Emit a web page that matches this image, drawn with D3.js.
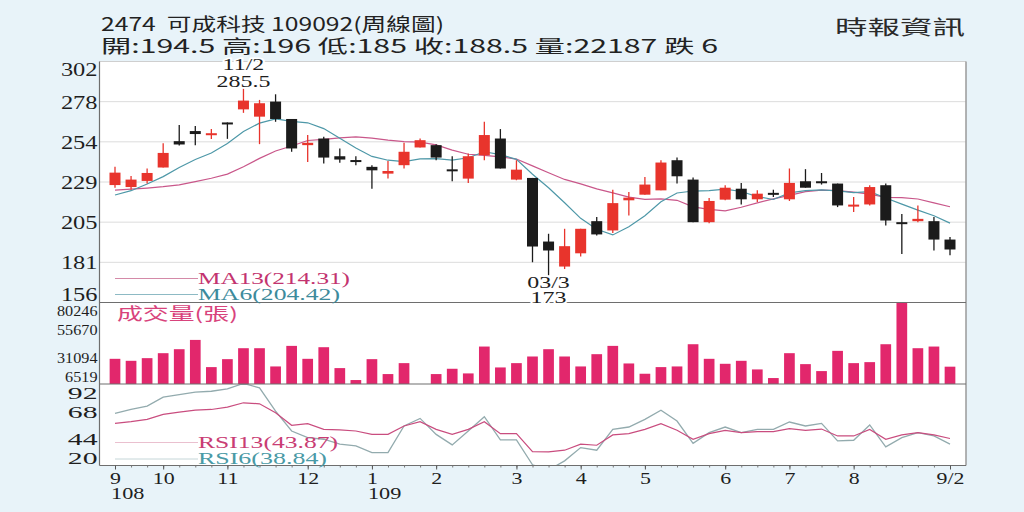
<!DOCTYPE html>
<html>
<head>
<meta charset="utf-8">
<script src="https://cdn.jsdelivr.net/npm/d3@7"></script>
<style>
  body { margin: 0; background: #e8f3f9; }
  svg { display: block; }
</style>
</head>
<body>
<div id="chart"></div>
<script>
// weekly candles, 108/9 .. 109/9/2
const open  = [227.4,226.2,229.9,238.0,253.9,260.0,258.4,265.2,273.1,268.7,277.8,267.3,251.5,255.5,244.8,242.5,238.4,234.3,239.4,250.1,
               251.5,236.9,231.3,245.4,255.5,230.7,231.7,193.3,178.2,186.2,205.6,200.0,218.2,221.6,224.2,242.4,230.7,205.0,218.6,225.2,
               218.8,222.7,218.8,229.7,229.7,228.3,215.4,215.7,227.3,205.0,205.6,205.6,194.5];
const high  = [238.5,232.9,237.4,252.6,263.6,263.0,261.2,265.2,285.5,278.8,282.2,267.3,257.6,256.5,249.5,244.8,239.4,242.0,252.9,255.5,
               252.1,244.8,246.4,265.6,261.2,242.4,231.7,198.0,201.0,201.0,208.1,224.6,223.2,232.3,242.4,244.0,231.9,219.6,227.3,228.7,
               224.2,224.6,237.4,237.0,234.7,228.3,220.2,227.3,228.3,210.0,215.1,208.1,196];
const low   = [225.8,224.6,228.3,238.0,251.3,251.5,255.2,255.3,271.0,252.1,265.6,247.5,241.4,240.4,240.8,239.4,225.2,231.3,237.4,250.1,
               242.4,229.7,228.7,242.4,237.4,230.3,180.8,173,176.7,184.2,197.0,198.4,209.1,221.6,224.2,228.3,205.0,204.4,218.2,215.7,
               217.2,220.2,217.8,225.8,227.7,214.1,211.1,215.1,203.0,185.8,205.0,187.9,185];
const close = [234.9,230.7,234.7,246.8,251.9,258.2,258.7,265.0,278.4,276.8,267.3,249.5,252.9,244.0,242.8,242.3,236.3,235.9,247.5,254.5,
               244.0,236.6,244.8,257.6,237.4,236.7,190.3,187.9,190.5,201.0,197.6,216.5,219.8,227.7,241.0,232.7,205.0,217.8,225.8,218.8,
               222.2,222.5,228.7,225.8,228.7,215.1,215.6,226.2,206.0,204.0,207.0,194.5,188.5];
const ma13  = [224.4,225.0,225.6,226.4,227.5,229.5,231.5,234.0,238.5,243.5,248.0,251.0,254.3,255.0,255.9,256.5,255.7,254.5,253.6,253.3,
               251.7,248.5,246.0,245.3,244.4,243.1,239.0,234.8,230.8,228.1,225.1,222.7,220.1,218.8,219.1,218.2,214.2,212.7,211.8,214.0,
               216.6,219.1,221.2,223.4,224.4,224.0,223.1,221.9,219.9,219.8,219.0,216.6,214.31];
const ma6   = [221.4,224.0,228.0,232.5,238.0,242.8,246.8,252.5,259.8,264.8,267.4,265.9,265.0,261.5,255.6,249.8,244.7,242.4,241.5,243.2,
               243.4,242.5,243.9,247.5,245.8,242.9,233.9,225.8,216.7,207.3,200.7,197.3,202.2,208.9,217.3,222.6,223.8,224.0,225.0,223.5,
               220.4,218.7,222.7,224.0,224.5,223.9,222.8,223.4,219.6,215.9,212.3,208.9,204.42];
const volume = [29300,27500,29900,34400,38000,46400,21800,29000,38900,38900,22400,41000,29300,39800,20900,10100,29000,15500,25400,6519,
                15500,20300,16100,40400,21500,25400,31400,38000,31400,22400,33500,41000,25100,15800,21800,22400,42500,29300,24800,27500,
                19700,11900,34400,24500,18200,36500,25400,26300,42500,80246,38900,40400,22187];
const rsi13 = [57.2,58.7,60.7,65.1,67.2,68.9,69.5,71.6,75.4,74.5,66.6,55.5,56.9,51.9,51.4,50.5,47.5,47.5,54.9,58.7,
               51.9,47.5,51.9,58.7,48.1,48.1,32.3,32.0,33.5,38.8,37.9,47.0,48.1,51.9,56.9,51.1,43.2,48.1,51.1,49.0,
               49.9,49.9,52.5,51.1,52.2,46.1,46.1,51.9,43.2,47.0,49.0,47.0,43.87];
const rsi6  = [66.0,69.5,72.5,80.4,82.7,84.8,85.6,87.7,92.5,88.6,68.1,50.5,44.6,43.2,38.8,37.3,31.4,31.4,54.9,61.6,
               47.5,38.2,50.5,63.1,42.6,42.6,20.6,16.0,24.1,35.8,33.5,51.9,54.0,60.7,68.9,59.3,39.6,49.0,54.0,49.0,
               51.9,51.9,58.4,54.9,57.2,41.7,42.3,55.8,36.4,44.6,49.0,46.1,38.84];

const priceTicks  = [302, 277.75, 253.5, 229.25, 205, 180.75, 156.5];
const priceLabels = ["302", "278", "254", "229", "205", "181", "156"];
const volTicks = [80246, 55670, 31094, 6519];
const rsiTicks = [92, 68, 44, 20];
const monthIdx    = [0, 3, 7, 12, 16, 20, 25, 29, 33, 38, 42, 46, 52];
const monthLabels = ["9", "10", "11", "12", "1", "2", "3", "4", "5", "6", "7", "8", "9/2"];
const yearIdx    = [0, 16];
const yearLabels = ["108", "109"];
const peakDate = "11/2", troughDate = "03/3";

const weeks = close.map((d, i) => i);
const last = close.length - 1;

const W = 1024, H = 512;
const left = 99.5, right = 966;
const pricePanel = [61.5, 302.5], volPanel = [302.5, 384], rsiPanel = [384, 465.5];
const serif = "'Liberation Serif', 'Times New Roman', serif";
const cjk = "'Noto Sans CJK TC', 'Noto Sans', sans-serif";
const RED = "#e8342c", BLACK = "#1b1b1b";

const svg = d3.select("#chart").append("svg")
    .attr("width", W)
    .attr("height", H);

svg.append("rect").attr("width", W).attr("height", H).attr("fill", "#e8f3f9");
svg.append("rect")
    .attr("x", left).attr("y", pricePanel[0])
    .attr("width", right - left).attr("height", rsiPanel[1] - pricePanel[0])
    .attr("fill", "#fff");

const x = d3.scalePoint().domain(weeks).range([115, 950]);
const yPrice = d3.scaleLinear().domain([156.5, 302]).range([pricePanel[1], pricePanel[0]]);
const yVol = d3.scaleLinear().domain([6519, 80246]).range([volPanel[1], volPanel[0]]);
const yRsi = d3.scaleLinear().domain([20, 92]).range([rsiPanel[1], rsiPanel[0]]);

// stretch text horizontally (the source picture is widened)
function stretch(sel, k) {
    sel.each(function() {
        const t = d3.select(this);
        const w = this.getComputedTextLength() * k;
        const anchor = getComputedStyle(this).textAnchor;
        const x0 = +(t.attr("x") || 0);
        const shift = anchor === "end" ? w : anchor === "middle" ? w / 2 : 0;
        t.attr("x", x0 - shift)
            .attr("text-anchor", "start")
            .attr("textLength", w)
            .attr("lengthAdjust", "spacingAndGlyphs");
    });
}

function clip(id, panel) {
    svg.append("clipPath").attr("id", id).append("rect")
        .attr("x", left).attr("y", panel[0])
        .attr("width", right - left).attr("height", panel[1] - panel[0]);
}
clip("clipPrice", pricePanel);
clip("clipRsi", rsiPanel);

// gridlines in price panel
svg.append("g").selectAll("line")
    .data(priceTicks.slice(1, -1))
    .enter().append("line")
    .attr("x1", left).attr("x2", right)
    .attr("y1", d => yPrice(d)).attr("y2", d => yPrice(d))
    .attr("stroke", "#dcdcdc")
    .attr("stroke-width", 1);

// moving averages
const linePrice = data => d3.line().x((d, i) => x(i)).y(d => yPrice(d))(data);
const maG = svg.append("g").attr("clip-path", "url(#clipPrice)").attr("fill", "none");
maG.append("path").attr("d", linePrice(ma13)).attr("stroke", "#c9578a").attr("stroke-width", 1.2);
maG.append("path").attr("d", linePrice(ma6)).attr("stroke", "#4e98a8").attr("stroke-width", 1.2);

// candles
const candles = svg.append("g").selectAll("g")
    .data(weeks)
    .enter().append("g");

const colorOf = i => close[i] >= open[i] ? RED : BLACK;

candles.append("line")
    .attr("x1", i => x(i)).attr("x2", i => x(i))
    .attr("y1", i => yPrice(high[i])).attr("y2", i => yPrice(low[i]))
    .attr("stroke", colorOf)
    .attr("stroke-width", 1.3);

candles.append("rect")
    .attr("x", i => x(i) - 5.5)
    .attr("width", 11)
    .attr("y", i => yPrice(Math.max(open[i], close[i])))
    .attr("height", i => Math.max(2, Math.abs(yPrice(open[i]) - yPrice(close[i]))))
    .attr("fill", colorOf);

// volume
svg.append("g").selectAll("rect")
    .data(weeks)
    .enter().append("rect")
    .attr("x", i => x(i) - 5.35)
    .attr("width", 10.7)
    .attr("y", i => yVol(volume[i]))
    .attr("height", i => yVol(6519) - yVol(volume[i]))
    .attr("fill", "#e2276c");

// RSI
const lineRsi = data => d3.line().x((d, i) => x(i)).y(d => yRsi(d))(data);
const rsiG = svg.append("g").attr("clip-path", "url(#clipRsi)").attr("fill", "none");
rsiG.append("path").attr("d", lineRsi(rsi6)).attr("stroke", "#93abae").attr("stroke-width", 1.3);
rsiG.append("path").attr("d", lineRsi(rsi13)).attr("stroke", "#c94d7f").attr("stroke-width", 1.2);

// frame
const frame = svg.append("g").attr("fill", "none");
frame.append("line").attr("x1", left).attr("x2", right).attr("y1", pricePanel[0]).attr("y2", pricePanel[0]).attr("stroke", "#cfcfcf");
frame.append("line").attr("x1", right).attr("x2", right).attr("y1", pricePanel[0]).attr("y2", rsiPanel[1]).attr("stroke", "#9a9a9a").attr("stroke-width", 1.5);
[volPanel[0], rsiPanel[0], rsiPanel[1]].forEach(yy => {
    frame.append("line").attr("x1", left).attr("x2", right).attr("y1", yy).attr("y2", yy).attr("stroke", "#6e6e6e").attr("stroke-width", 1.2);
});
frame.append("line").attr("x1", left).attr("x2", left).attr("y1", pricePanel[0]).attr("y2", rsiPanel[1]).attr("stroke", "#6e6e6e").attr("stroke-width", 1.2);

// left axes
function leftAxis(scale, ticks, fmt, panel, size, k) {
    const g = svg.append("g")
        .attr("transform", `translate(${left},0)`)
        .call(d3.axisLeft(scale).tickValues(ticks).tickFormat(fmt).tickSize(0).tickPadding(2));
    g.select(".domain").remove();
    const txt = g.selectAll("text")
        .attr("font-family", serif)
        .attr("font-size", size)
        .attr("fill", "#1e1e1e")
        .attr("dy", "0.35em")
        .attr("y", d => {
            const p = scale(d);
            return Math.min(Math.max(p, panel[0] + 8), panel[1] - 8) - p;
        });
    stretch(txt, k);
}
leftAxis(yPrice, priceTicks, (d, i) => priceLabels[i], pricePanel, 18.5, 1.32);
leftAxis(yVol, volTicks, d => d, volPanel, 15, 1.08);
leftAxis(yRsi, rsiTicks, d => d, rsiPanel, 17.5, 1.7);

// bottom axis
const minor = svg.append("g")
    .attr("transform", `translate(0,${rsiPanel[1]})`)
    .call(d3.axisBottom(x).tickValues(weeks).tickSize(2).tickFormat(""));
minor.select(".domain").remove();
minor.selectAll("line").attr("stroke", "#777");

const major = svg.append("g")
    .attr("transform", `translate(0,${rsiPanel[1]})`)
    .call(d3.axisBottom(x).tickValues(monthIdx).tickSize(4).tickPadding(2).tickFormat((d, i) => monthLabels[i]));
major.select(".domain").remove();
major.selectAll("line").attr("stroke", "#555");
stretch(major.selectAll("text")
    .attr("font-family", serif)
    .attr("font-size", 17.5)
    .attr("fill", "#1e1e1e"), 1.25);

stretch(svg.append("g").selectAll("text")
    .data(yearIdx)
    .enter().append("text")
    .attr("x", d => x(d) - 4)
    .attr("y", 499)
    .attr("font-family", serif)
    .attr("font-size", 16.5)
    .attr("fill", "#1e1e1e")
    .text((d, i) => yearLabels[i]), 1.35);

// legends
function legend(label, y, color, lineColor, width) {
    svg.append("line")
        .attr("x1", 115).attr("x2", 198)
        .attr("y1", y - 5).attr("y2", y - 5)
        .attr("stroke", lineColor).attr("stroke-width", 1);
    svg.append("text")
        .attr("x", 198).attr("y", y)
        .attr("font-family", serif)
        .attr("font-size", 17.5)
        .attr("fill", color)
        .attr("textLength", width)
        .attr("lengthAdjust", "spacingAndGlyphs")
        .text(label);
}
legend(`MA13(${ma13[last].toFixed(2)})`, 283.5, "#c3346f", "#d48aa8", 152);
legend(`MA6(${ma6[last].toFixed(2)})`, 299.5, "#3d8b9c", "#8dbac4", 142);
legend(`RSI13(${rsi13[last].toFixed(2)})`, 447.5, "#c93d74", "#eac0cf", 140);
legend(`RSI6(${rsi6[last].toFixed(2)})`, 464, "#4a9aa6", "#c5d6d8", 129);

svg.append("text")
    .attr("x", 117).attr("y", 320)
    .attr("font-family", cjk)
    .attr("font-size", 17)
    .attr("fill", "#d8437c")
    .attr("textLength", 121)
    .attr("lengthAdjust", "spacingAndGlyphs")
    .text("成交量(張)");

// high / low notes
const hi = d3.maxIndex(high), lo = d3.minIndex(low);
function note(i, y, label) {
    return svg.append("text")
        .attr("x", x(i)).attr("y", y)
        .attr("text-anchor", "middle")
        .attr("font-family", serif)
        .attr("font-size", 16.5)
        .attr("fill", "#1e1e1e")
        .attr("paint-order", "stroke")
        .attr("stroke", "#fff")
        .attr("stroke-width", 3)
        .text(label);
}
stretch(note(hi, yPrice(high[hi]) - 19, peakDate), 1.45);
stretch(note(hi, yPrice(high[hi]) - 2, String(high[hi])), 1.45);
stretch(note(lo, yPrice(low[lo]) + 13, troughDate), 1.45);
stretch(note(lo, yPrice(low[lo]) + 28, String(low[lo])), 1.45);

// titles
svg.append("text")
    .attr("x", 101).attr("y", 31)
    .attr("font-family", cjk).attr("font-size", 18.5).attr("fill", "#222")
    .style("white-space", "pre")
    .attr("textLength", 343).attr("lengthAdjust", "spacingAndGlyphs")
    .text("2474  可成科技 109092(周線圖)");

const change = close[last - 1] - close[last];
svg.append("text")
    .attr("x", 101).attr("y", 52.5)
    .attr("font-family", cjk).attr("font-size", 18.5).attr("fill", "#222")
    .attr("textLength", 617).attr("lengthAdjust", "spacingAndGlyphs")
    .text(`開:${open[last]} 高:${high[last]} 低:${low[last]} 收:${close[last]} 量:${volume[last]} 跌 ${change}`);

svg.append("text")
    .attr("x", 835).attr("y", 35)
    .attr("font-family", cjk).attr("font-size", 20).attr("fill", "#2a2a2a")
    .attr("textLength", 130).attr("lengthAdjust", "spacingAndGlyphs")
    .text("時報資訊");
</script>
</body>
</html>
